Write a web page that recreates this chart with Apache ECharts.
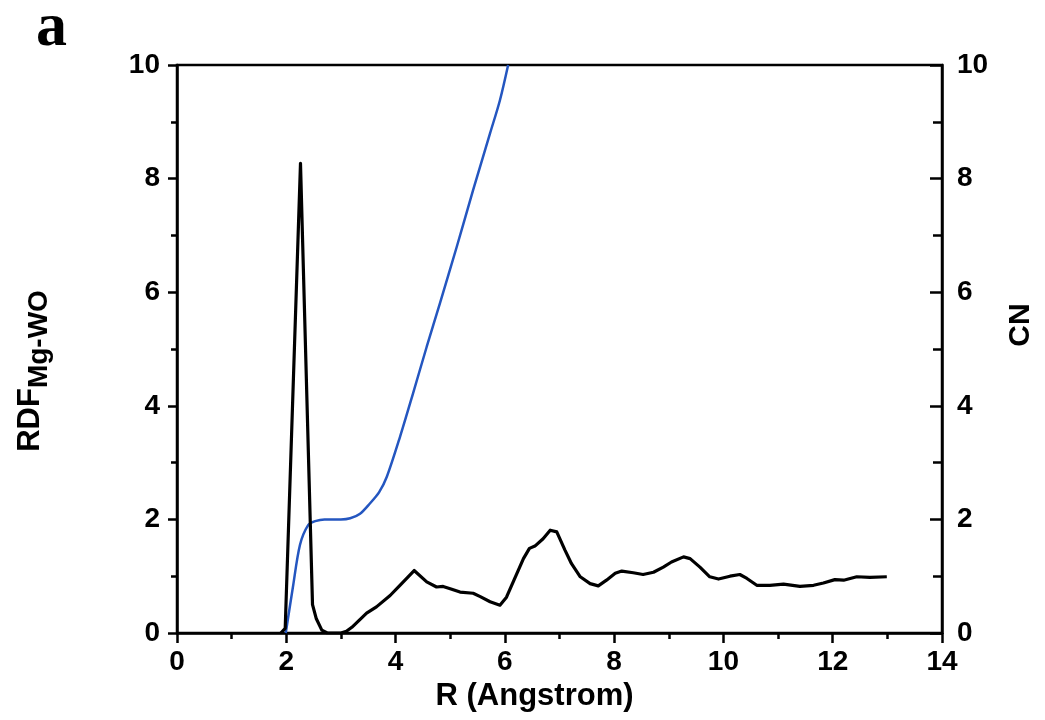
<!DOCTYPE html>
<html>
<head>
<meta charset="utf-8">
<script src="https://cdn.jsdelivr.net/npm/echarts@6/dist/echarts.min.js"></script>
<style>
  html, body { margin: 0; padding: 0; background: #fff; }
  #chart { width: 1045px; height: 720px; }
</style>
</head>
<body>
<div id="chart"></div>
<script>
// RDF Mg-WO (left axis)
const rdfR = [1.90, 1.98, 2.26, 2.48, 2.55, 2.65, 2.75, 3.00, 3.10, 3.20, 3.47, 3.65, 3.90, 4.08, 4.34, 4.57, 4.75, 4.87, 5.00, 5.18, 5.42, 5.55, 5.73, 5.91, 6.03, 6.34, 6.45, 6.55, 6.70, 6.83, 6.95, 7.10, 7.22, 7.38, 7.56, 7.71, 7.86, 8.02, 8.14, 8.35, 8.53, 8.72, 8.90, 9.05, 9.27, 9.39, 9.57, 9.75, 9.91, 10.12, 10.30, 10.43, 10.61, 10.85, 11.10, 11.40, 11.65, 11.83, 12.04, 12.20, 12.44, 12.68, 12.99];
const rdfVal = [0.00, 0.08, 8.27, 0.50, 0.25, 0.05, 0.00, 0.00, 0.03, 0.10, 0.35, 0.46, 0.66, 0.84, 1.10, 0.90, 0.81, 0.82, 0.78, 0.72, 0.70, 0.64, 0.55, 0.49, 0.63, 1.31, 1.49, 1.53, 1.66, 1.81, 1.78, 1.46, 1.22, 0.99, 0.87, 0.83, 0.93, 1.05, 1.09, 1.06, 1.03, 1.07, 1.16, 1.25, 1.34, 1.31, 1.16, 0.99, 0.95, 1.00, 1.03, 0.96, 0.84, 0.84, 0.86, 0.82, 0.84, 0.88, 0.94, 0.93, 0.99, 0.98, 0.99];
// Coordination number (right axis)
const cnR = [1.99, 2.12, 2.25, 2.40, 2.53, 2.70, 3.00, 3.17, 3.35, 3.53, 3.70, 3.84, 4.08, 4.32, 4.57, 4.81, 5.12, 5.42, 5.73, 5.91, 6.06];
const cnVal = [0.00, 0.80, 1.55, 1.90, 1.97, 2.00, 2.00, 2.02, 2.10, 2.28, 2.48, 2.75, 3.45, 4.22, 5.04, 5.80, 6.80, 7.80, 8.80, 9.38, 10.00];
const xTicks = [0, 2, 4, 6, 8, 10, 12, 14];
const yTicks = [0, 2, 4, 6, 8, 10];

const FONT = '"Liberation Sans", Arial, sans-serif';
const zip = (a, b) => a.map((v, i) => [v, b[i]]);

const chart = echarts.init(document.getElementById('chart'), null, { renderer: 'canvas' });
const labelStyle = { color: '#000', fontFamily: FONT, fontWeight: 'bold', fontSize: 28 };

chart.setOption({
  backgroundColor: '#fff',
  animation: false,
  graphic: [{
    type: 'text', left: 36, top: -2,
    style: { text: 'a', fill: '#000', font: 'bold 62px "Liberation Serif", "DejaVu Serif", serif' }
  }],
  grid: { left: 177, right: 103, top: 65, bottom: 87, show: true, borderColor: '#000', borderWidth: 2.5, backgroundColor: 'transparent' },
  xAxis: {
    type: 'value', min: xTicks[0], max: xTicks[xTicks.length - 1], interval: 2,
    name: 'R (Angstrom)', nameLocation: 'middle', nameGap: 44,
    nameTextStyle: { color: '#000', fontFamily: FONT, fontWeight: 'bold', fontSize: 31, padding: [0, 50, 0, 0] },
    axisLine: { show: true, lineStyle: { color: '#000', width: 2.5 } },
    axisTick: { show: true, inside: false, length: 10, lineStyle: { color: '#000', width: 2.5 } },
    minorTick: { show: true, splitNumber: 2, length: 6, lineStyle: { color: '#000', width: 2.5 } },
    axisLabel: Object.assign({ margin: 15 }, labelStyle),
    splitLine: { show: false }
  },
  yAxis: [{
    type: 'value', min: yTicks[0], max: yTicks[yTicks.length - 1], interval: 2, position: 'left',
    name: '{a|RDF}{b|Mg-WO}', nameLocation: 'middle', nameGap: 124, nameRotate: 90,
    nameTextStyle: {
      padding: [0, 44, 0, 0],
      rich: {
        a: { color: '#000', fontFamily: FONT, fontWeight: 'bold', fontSize: 31 },
        b: { color: '#000', fontFamily: FONT, fontWeight: 'bold', fontSize: 28, padding: [18, 0, 0, 0] }
      }
    },
    axisLine: { show: true, lineStyle: { color: '#000', width: 2.5 } },
    axisTick: { show: true, inside: false, length: 9, lineStyle: { color: '#000', width: 2.5 } },
    minorTick: { show: true, splitNumber: 2, length: 6, lineStyle: { color: '#000', width: 2.5 } },
    axisLabel: Object.assign({ margin: 17 }, labelStyle),
    splitLine: { show: false }
  }, {
    type: 'value', min: yTicks[0], max: yTicks[yTicks.length - 1], interval: 2, position: 'right',
    name: 'CN', nameLocation: 'middle', nameGap: 64, nameRotate: 90,
    nameTextStyle: { color: '#000', fontFamily: FONT, fontWeight: 'bold', fontSize: 30, padding: [0, 0, 0, 48] },
    axisLine: { show: true, lineStyle: { color: '#000', width: 2.5 } },
    axisTick: { show: true, inside: true, length: 12, lineStyle: { color: '#000', width: 2.5 } },
    minorTick: { show: true, splitNumber: 2, length: 9, lineStyle: { color: '#000', width: 2.5 } },
    axisLabel: Object.assign({ margin: 15 }, labelStyle),
    splitLine: { show: false }
  }],
  series: [{
    name: 'RDF', type: 'line', yAxisIndex: 0, data: zip(rdfR, rdfVal),
    showSymbol: false, smooth: false, lineStyle: { color: '#000', width: 3.2, join: 'round' }, z: 3
  }, {
    name: 'CN', type: 'line', yAxisIndex: 1, data: zip(cnR, cnVal),
    showSymbol: false, smooth: 0.3, lineStyle: { color: '#2456c0', width: 2.5 }, z: 2
  }]
});
</script>
</body>
</html>
